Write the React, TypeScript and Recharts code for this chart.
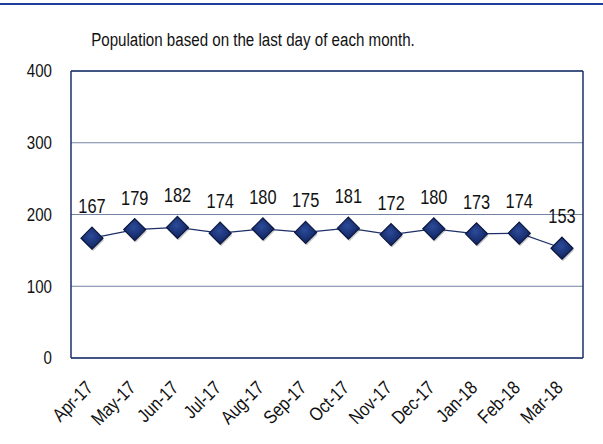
import React from 'react';
import { LineChart, Line, XAxis, YAxis, CartesianGrid, LabelList } from 'recharts';

const months = ['Apr-17', 'May-17', 'Jun-17', 'Jul-17', 'Aug-17', 'Sep-17', 'Oct-17', 'Nov-17', 'Dec-17', 'Jan-18', 'Feb-18', 'Mar-18'];
const population = [167, 179, 182, 174, 180, 175, 181, 172, 180, 173, 174, 153];
const yTicks = [0, 100, 200, 300, 400];

const data = months.map((m, i) => ({ month: m, value: population[i] }));

// no Arial Narrow here, so squeeze Liberation Sans sideways instead
const FONT = '"Liberation Sans", Arial, sans-serif';
const SQUEEZE = 0.84;
const NAVY = '#1d3068';

function Diamond(props: any) {
  const { cx, cy } = props;
  if (cx == null || cy == null) return null;
  const r = 11;
  return (
    <g>
      <polygon
        points={`${cx + 1},${cy - r + 2} ${cx + r + 1},${cy + 2} ${cx + 1},${cy + r + 2} ${cx - r + 1},${cy + 2}`}
        fill="#000"
        opacity={0.22}
      />
      <polygon
        points={`${cx},${cy - r} ${cx + r},${cy} ${cx},${cy + r} ${cx - r},${cy}`}
        fill="url(#diamondFill)"
        stroke="#0b1640"
        strokeWidth={1.2}
      />
    </g>
  );
}

function XTick(props: any) {
  const { x, y, payload } = props;
  return (
    <text
      transform={`translate(${x + 2},${y + 31}) rotate(-45) scale(${SQUEEZE},1)`}
      textAnchor="end"
      fontSize={19}
      fontFamily={FONT}
      fill="#111"
    >
      {payload.value}
    </text>
  );
}

function YTick(props: any) {
  const { x, y, payload } = props;
  return (
    <text
      transform={`translate(${x},${y}) scale(${SQUEEZE},1)`}
      textAnchor="end"
      dy="0.35em"
      fontSize={18}
      fontFamily={FONT}
      fill="#111"
    >
      {payload.value}
    </text>
  );
}

function PointLabel(props: any) {
  const { x, y, value } = props;
  return (
    <text
      transform={`translate(${x},${y - 25}) scale(${SQUEEZE},1)`}
      textAnchor="middle"
      fontSize={19.5}
      fontFamily={FONT}
      fill="#111"
    >
      {value}
    </text>
  );
}

export default function App() {
  return (
    <div style={{ position: 'absolute', left: 0, top: 0, width: 603, height: 444, background: '#fff', fontFamily: FONT }}>
      <div style={{ position: 'absolute', left: 0, top: 3, width: 603, height: 2, background: '#1c3f9e' }} />
      <div
        style={{
          position: 'absolute',
          left: 0,
          width: 506,
          top: 29,
          textAlign: 'center',
          fontSize: 18,
          color: '#111',
          lineHeight: '22px',
          transform: `scaleX(${SQUEEZE})`,
          transformOrigin: '253px 0',
          whiteSpace: 'nowrap',
        }}
      >
        Population based on the last day of each month.
      </div>
      <LineChart width={603} height={444} data={data} margin={{ top: 70, right: 19, bottom: 26, left: 21 }}>
        <defs>
          <radialGradient id="diamondFill" cx="45%" cy="40%" r="60%">
            <stop offset="0%" stopColor="#2c4b98" />
            <stop offset="100%" stopColor="#0f2260" />
          </radialGradient>
        </defs>
        <CartesianGrid vertical={false} stroke="#7384a3" strokeWidth={1} />
        <XAxis
          dataKey="month"
          interval={0}
          padding={{ left: 21, right: 21 }}
          axisLine={{ stroke: NAVY, strokeWidth: 1.5 }}
          tickLine={false}
          tickSize={0}
          tickMargin={0}
          height={60}
          tick={<XTick />}
        />
        <XAxis xAxisId="top" dataKey="month" orientation="top" height={1} tick={false} tickLine={false} axisLine={{ stroke: NAVY, strokeWidth: 1.5 }} />
        <YAxis
          domain={[0, 400]}
          ticks={yTicks}
          width={50}
          axisLine={{ stroke: NAVY, strokeWidth: 1.5 }}
          tickLine={false}
          tickSize={0}
          tickMargin={19}
          tick={<YTick />}
        />
        <YAxis yAxisId="right" orientation="right" domain={[0, 400]} width={1} tick={false} tickLine={false} axisLine={{ stroke: NAVY, strokeWidth: 1.5 }} />
        {/* invisible series so the top/right frame axes get drawn */}
        <Line xAxisId="top" yAxisId="right" dataKey="value" stroke="none" dot={false} activeDot={false} isAnimationActive={false} />
        <Line
          type="linear"
          dataKey="value"
          stroke={NAVY}
          strokeWidth={1.2}
          dot={<Diamond />}
          activeDot={false}
          isAnimationActive={false}
        >
          <LabelList dataKey="value" content={<PointLabel />} />
        </Line>
      </LineChart>
    </div>
  );
}
